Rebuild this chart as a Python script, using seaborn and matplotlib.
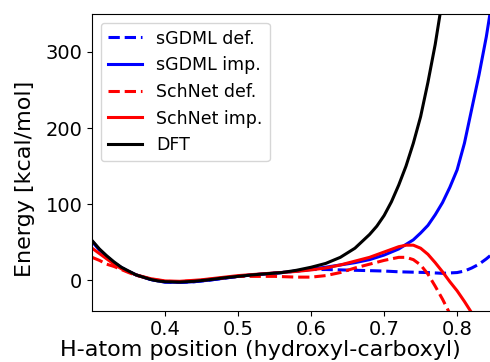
import numpy as np
import matplotlib
matplotlib.use("Agg")
import matplotlib.pyplot as plt
import seaborn as sns

# H-atom position values, per curve
x_dft = [0.30, 0.31, 0.32, 0.33, 0.34, 0.35, 0.36, 0.37, 0.38, 0.39, 0.40, 0.42, 0.44, 0.46,
         0.48, 0.50, 0.52, 0.54, 0.56, 0.58, 0.60, 0.62, 0.64, 0.66, 0.68, 0.69, 0.70, 0.71,
         0.72, 0.73, 0.74, 0.75, 0.76, 0.77, 0.78]
e_dft = [52, 41, 32, 24, 17, 12, 7, 4, 1, -1, -2, -2.5, -1.5, 0.5,
         3, 5, 7, 8.5, 10, 13, 17, 22, 30, 42, 60, 71, 85, 103,
         125, 150, 180, 215, 260, 310, 370]

x_sgdml_imp = [0.30, 0.31, 0.32, 0.33, 0.34, 0.35, 0.36, 0.37, 0.38, 0.39, 0.40, 0.42, 0.44,
               0.46, 0.48, 0.50, 0.52, 0.54, 0.56, 0.58, 0.60, 0.62, 0.64, 0.66, 0.68, 0.70,
               0.72, 0.74, 0.75, 0.76, 0.77, 0.78, 0.79, 0.80, 0.81, 0.82, 0.83, 0.84, 0.85]
e_sgdml_imp = [51, 40, 31, 23, 16.5, 11.5, 7, 4, 1, -1, -2.5, -3, -2, 0,
               2.5, 5, 7, 8.5, 10, 12, 14.5, 17, 20, 23, 27, 33,
               41, 53, 62, 72, 86, 102, 122, 145, 180, 225, 270, 320, 380]

x_sgdml_def = [0.30, 0.31, 0.32, 0.33, 0.34, 0.35, 0.36, 0.37, 0.38, 0.39, 0.40, 0.42, 0.44,
               0.46, 0.48, 0.50, 0.52, 0.54, 0.56, 0.58, 0.60, 0.62, 0.64, 0.66, 0.68, 0.70,
               0.72, 0.74, 0.76, 0.78, 0.80, 0.81, 0.82, 0.83, 0.84, 0.85]
e_sgdml_def = [51, 40, 31, 23, 16.5, 11.5, 7, 4, 1, -1, -2.5, -3, -2, 0,
               2.5, 5, 7, 8.5, 10, 12, 14, 14, 13.5, 13, 12.5, 12,
               11, 10.5, 10, 9, 10, 12, 16, 21, 28, 36]

x_schnet_imp = [0.30, 0.31, 0.32, 0.33, 0.34, 0.35, 0.36, 0.38, 0.40, 0.42, 0.45, 0.50,
                0.55, 0.58, 0.60, 0.62, 0.64, 0.66, 0.68, 0.70, 0.72, 0.73, 0.74, 0.75,
                0.76, 0.77, 0.78, 0.79, 0.80, 0.81, 0.82]
e_schnet_imp = [42, 35, 28, 21, 15, 11, 7, 2, -1, -1.5, 0.5, 6,
                9.5, 11.5, 13.5, 16, 20, 25, 30, 37, 44, 46, 46, 42,
                34, 23, 11, -2, -14, -28, -43]

x_schnet_def = [0.30, 0.31, 0.32, 0.33, 0.34, 0.35, 0.36, 0.38, 0.40, 0.42, 0.45, 0.50,
                0.55, 0.58, 0.60, 0.62, 0.64, 0.66, 0.68, 0.70, 0.72, 0.73, 0.74, 0.75,
                0.76, 0.77, 0.78, 0.79]
e_schnet_def = [30, 26, 21, 18, 14, 10, 6.5, 1.5, -1.5, -2, 0, 5,
                5, 4, 4, 6, 10, 16, 21, 26, 30, 30, 27, 20,
                8, -8, -25, -44]

fig = plt.figure(figsize=(4.9, 3.62), dpi=100)
ax = fig.add_axes([0.188, 0.142, 0.8194, 0.8196])

lw = 2.2
sns.lineplot(x=x_sgdml_def, y=e_sgdml_def, color='blue', linestyle='--', lw=lw, label='sGDML def.', ax=ax)
sns.lineplot(x=x_sgdml_imp, y=e_sgdml_imp, color='blue', lw=lw, label='sGDML imp.', ax=ax)
sns.lineplot(x=x_schnet_def, y=e_schnet_def, color='red', linestyle='--', lw=lw, label='SchNet def.', ax=ax)
sns.lineplot(x=x_schnet_imp, y=e_schnet_imp, color='red', lw=lw, label='SchNet imp.', ax=ax)
sns.lineplot(x=x_dft, y=e_dft, color='black', lw=lw, label='DFT', ax=ax)

ax.set_xlim(0.3, 0.85)
ax.set_ylim(-40, 350)
ax.set_xticks([0.4, 0.5, 0.6, 0.7, 0.8])
ax.set_yticks([0, 100, 200, 300])
ax.tick_params(labelsize=14)
ax.set_xlabel('H-atom position (hydroxyl-carboxyl)', fontsize=16)
ax.set_ylabel('Energy [kcal/mol]', fontsize=16)
ax.xaxis.set_label_coords(0.418, -0.098)
ax.yaxis.set_label_coords(-0.1415, 0.444)
ax.legend(loc='upper left', fontsize=12.5)

fig.savefig('out.png', dpi=100)
